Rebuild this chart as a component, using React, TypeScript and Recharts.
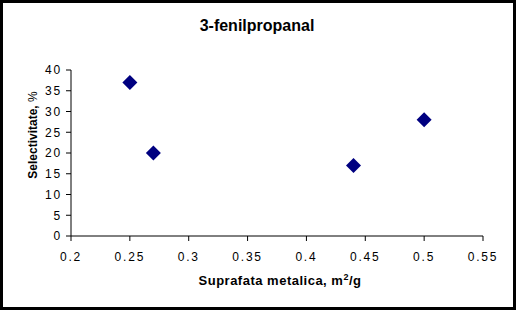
import React from 'react'
import { ScatterChart, Scatter, XAxis, YAxis } from 'recharts'

const surface = [0.25, 0.27, 0.44, 0.5]
const selectivity = [37, 20, 17, 28]
const xTicks = [0.2, 0.25, 0.3, 0.35, 0.4, 0.45, 0.5, 0.55]
const yTicks = [0, 5, 10, 15, 20, 25, 30, 35, 40]

const points = surface.map((x, i) => ({ x, y: selectivity[i] }))

const font = '"Liberation Sans", Arial, sans-serif'

function Diamond(props: any) {
  const { cx, cy } = props
  const r = 7.5
  return (
    <polygon
      points={`${cx},${cy - r} ${cx + r},${cy} ${cx},${cy + r} ${cx - r},${cy}`}
      fill="#000080"
    />
  )
}

export default function App() {
  return (
    <div
      style={{
        position: 'fixed',
        left: 0,
        top: 0,
        width: 516,
        height: 310,
        background: '#fff',
        border: '3px solid #000',
        boxSizing: 'border-box',
      }}
    >
      <div style={{ position: 'absolute', left: -3, top: -3 }}>
        <ScatterChart width={516} height={310} margin={{ top: 70, right: 33, bottom: 44, left: 0 }}>
          <text x={257} y={31} textAnchor="middle" fontFamily={font} fontWeight="bold" fontSize={16} fill="#000">
            3-fenilpropanal
          </text>
          <text
            x={0}
            y={0}
            transform="translate(37,135) rotate(-90)"
            textAnchor="middle"
            fontFamily={font}
            fontWeight="bold"
            fontSize={12}
            fill="#000"
          >
            Selectivitate, <tspan fontWeight="normal">%</tspan>
          </text>
          <text x={280} y={285} textAnchor="middle" fontFamily={font} fontWeight="bold" fontSize={13} letterSpacing={0.5} fill="#000">
            Suprafata metalica, m<tspan dy={-5} fontSize={9}>2</tspan>
            <tspan dy={5}>/g</tspan>
          </text>
          <XAxis
            type="number"
            dataKey="x"
            domain={[0.2, 0.55]}
            ticks={xTicks}
            interval={0}
            height={30}
            tickSize={5}
            tickMargin={11}
            axisLine={{ stroke: '#000' }}
            tickLine={{ stroke: '#000' }}
            tick={{ fontSize: 12, fill: '#000', fontFamily: font, letterSpacing: 1.8 }}
          />
          <YAxis
            type="number"
            dataKey="y"
            width={71}
            domain={[0, 40]}
            ticks={yTicks}
            interval={0}
            tickSize={5}
            tickMargin={4}
            axisLine={{ stroke: '#000' }}
            tickLine={{ stroke: '#000' }}
            tick={{ fontSize: 12, fill: '#000', fontFamily: font, letterSpacing: 1.8 }}
          />
          <Scatter data={points} shape={Diamond} isAnimationActive={false} />
        </ScatterChart>
      </div>
    </div>
  )
}
